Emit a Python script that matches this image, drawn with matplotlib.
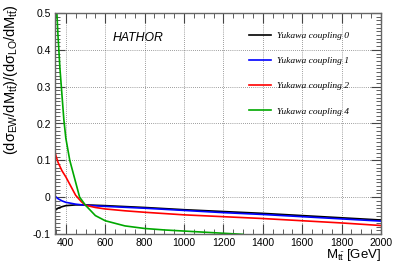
import matplotlib
matplotlib.use("Agg")
import matplotlib.pyplot as plt
from matplotlib.ticker import MultipleLocator

plt.rcParams['font.family'] = ['Liberation Sans', 'DejaVu Sans']
plt.rcParams['mathtext.fontset'] = 'custom'
plt.rcParams['mathtext.rm'] = 'Liberation Sans'
plt.rcParams['mathtext.it'] = 'Liberation Sans'
plt.rcParams['mathtext.bf'] = 'Liberation Sans:bold'

# data
mass_y0 = [345, 360, 380, 400, 450, 500, 600, 800, 1000, 1200, 1400, 1600, 1800, 2000]
ratio_y0 = [-0.036, -0.030, -0.026, -0.023, -0.021, -0.021, -0.023, -0.028, -0.034,
            -0.039, -0.044, -0.050, -0.056, -0.062]

mass_y1 = [345, 360, 380, 400, 450, 500, 600, 800, 1000, 1200, 1400, 1600, 1800, 2000]
ratio_y1 = [0.003, -0.004, -0.010, -0.014, -0.019, -0.022, -0.025, -0.030, -0.036,
            -0.042, -0.047, -0.053, -0.059, -0.065]

mass_y2 = [345, 350, 360, 380, 400, 420, 450, 480, 500, 550, 600, 700, 800, 1000,
           1200, 1400, 1600, 1800, 2000]
ratio_y2 = [0.122, 0.112, 0.095, 0.072, 0.055, 0.035, 0.005, -0.013, -0.022, -0.028,
            -0.032, -0.037, -0.041, -0.048, -0.053, -0.058, -0.064, -0.070, -0.077]

mass_y4 = [350, 360, 370, 380, 390, 400, 420, 450, 470, 500, 550, 600, 700, 800,
           900, 1000, 1100, 1200, 1300]
ratio_y4 = [0.55, 0.44, 0.35, 0.28, 0.21, 0.16, 0.10, 0.04, 0.0, -0.022, -0.05,
            -0.064, -0.078, -0.085, -0.089, -0.092, -0.095, -0.098, -0.101]

labels = ['Yukawa coupling 0', 'Yukawa coupling 1', 'Yukawa coupling 2', 'Yukawa coupling 4']
colors = ['black', '#0000ff', '#ff0000', '#00a800']

fig = plt.figure(figsize=(3.99, 2.70), dpi=100)
ax = fig.add_axes([55 / 399, 36 / 270, 326 / 399, 221 / 270])

series = [(mass_y0, ratio_y0), (mass_y1, ratio_y1), (mass_y2, ratio_y2), (mass_y4, ratio_y4)]
for (m, r), lab, c in zip(series, labels, colors):
    ax.plot(m, r, color=c, lw=1.2, label=lab)

ax.set_xlim(345, 2000)
ax.set_ylim(-0.1, 0.5)
ax.xaxis.set_major_locator(MultipleLocator(200))
ax.xaxis.set_minor_locator(MultipleLocator(50))
ax.yaxis.set_major_locator(MultipleLocator(0.1))
ax.yaxis.set_minor_locator(MultipleLocator(0.01))
ax.yaxis.set_major_formatter(matplotlib.ticker.FuncFormatter(
    lambda v, p: '0' if abs(v) < 1e-9 else ('%g' % v)))
ax.grid(True, which='major', ls=(0, (1, 2)), color='#444444', lw=0.5)
ax.tick_params(which='both', direction='in', top=True, right=True, labelsize=7.5,
               color='#444444', pad=3)
ax.tick_params(which='major', length=7, width=0.8)
ax.tick_params(which='minor', length=3.5, width=0.6)
for s in ax.spines.values():
    s.set_color('#666666')
    s.set_linewidth(1.0)

ax.text(0.177, 0.875, 'HATHOR', transform=ax.transAxes, fontsize=8.8, style='italic')

ax.legend(loc='upper left', bbox_to_anchor=(240 / 399, 1 - 23 / 270),
          bbox_transform=fig.transFigure, frameon=False,
          prop={'family': 'Liberation Serif', 'style': 'italic', 'size': 6.8},
          handlelength=2.35, handletextpad=0.7, labelspacing=1.75)

fig.text(0.005, 0.985, r'$(d\sigma_{EW}/dM_{t\bar{t}})/(d\sigma_{LO}/dM_{t\bar{t}})$',
         rotation=90, ha='left', va='top', fontsize=10.5)
fig.text(381 / 399, 0.025, r'$M_{t\bar{t}}$ [GeV]', ha='right', va='bottom', fontsize=9.5)

fig.savefig('out.png', dpi=100)
